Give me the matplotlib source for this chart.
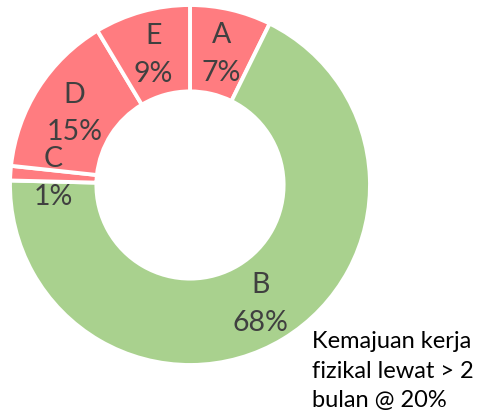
import matplotlib
matplotlib.use("Agg")
import matplotlib.pyplot as plt
import numpy as np

categories = ["A", "B", "C", "D", "E"]
values = [7.3, 68.1, 1.3, 14.7, 8.6]
colors = ["#FF7C80", "#A9D18E", "#FF7C80", "#FF7C80", "#FF7C80"]
note = "Kemajuan kerja\nfizikal lewat > 2\nbulan @ 20%"

plt.rcParams['font.family'] = ['Lato', 'DejaVu Sans']

W, H = 484, 416
fig = plt.figure(figsize=(W / 100, H / 100), dpi=100)
ax = fig.add_axes([0, 0, 1, 1])

cx, cy = 190, H - 185
R = 180
ring = 0.48
wedges, _ = ax.pie(values, colors=colors, startangle=90, counterclock=False,
                   center=(cx, cy), radius=R,
                   wedgeprops=dict(width=R * ring, edgecolor="white", linewidth=2.8))

total = sum(values)
rmid = R * (1 - ring / 2)
for w, cat, v in zip(wedges, categories, values):
    ang = np.deg2rad((w.theta1 + w.theta2) / 2)
    x = cx + rmid * np.cos(ang)
    y = cy + rmid * np.sin(ang)
    ax.text(x, y - 2, f"{cat}\n{100 * v / total:.0f}%", ha="center", va="center",
            fontsize=20.5, color="#404040", linespacing=1.55)

ax.text(312, H - 371, note, ha="left", va="center", fontsize=17,
        color="black", linespacing=1.5)

ax.set_xlim(0, W)
ax.set_ylim(0, H)
ax.set_aspect("equal")
ax.axis("off")
fig.savefig("out.png", dpi=100)
